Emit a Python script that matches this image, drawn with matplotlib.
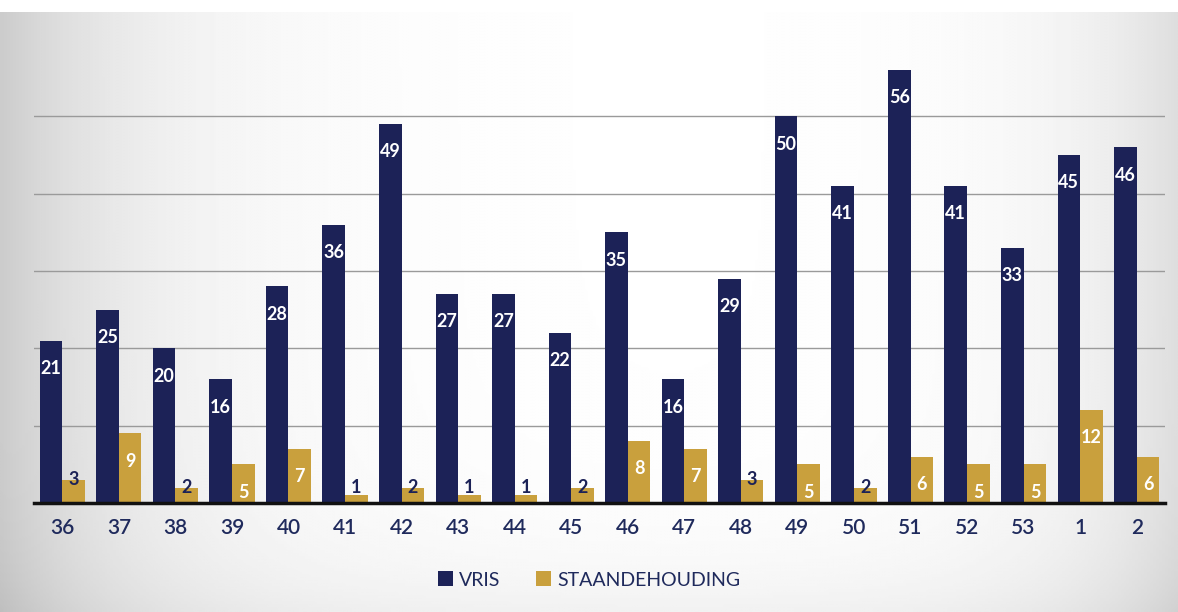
import matplotlib.pyplot as plt
import numpy as np

# week numbers and counts
weeks = ["36", "37", "38", "39", "40", "41", "42", "43", "44", "45",
         "46", "47", "48", "49", "50", "51", "52", "53", "1", "2"]
vris = [21, 25, 20, 16, 28, 36, 49, 27, 27, 22, 35, 16, 29, 50, 41, 56, 41, 33, 45, 46]
staande = [3, 9, 2, 5, 7, 1, 2, 1, 1, 2, 8, 7, 3, 5, 2, 6, 5, 5, 12, 6]

navy = "#1c2257"
gold = "#c9a03d"
text_dark = "#1f2a5c"

plt.rcParams['font.family'] = ['Lato', 'DejaVu Sans']

fig = plt.figure(figsize=(11.78, 6.12), dpi=100)

# soft grey gradient behind the chart (scan look)
bg = fig.add_axes([0, 0, 1, 600 / 612])
xx = np.linspace(0, 1178, 400)
yy = np.linspace(0, 600, 200)
X, Y = np.meshgrid(xx, yy)
shade = 1 - 0.20 * np.exp(-X / 140) - 0.13 * np.exp(-(1178 - X) / 110) - 0.05 * np.exp(-(600 - Y) / 60)
bg.imshow(shade, cmap="gray", vmin=0, vmax=1, aspect="auto", extent=[0, 1, 0, 1])
bg.axis("off")

ax = fig.add_axes([34 / 1178, 109 / 612, 1131 / 1178, 464 / 612])
ax.set_facecolor("none")

x = np.arange(len(weeks))
w = 0.40
b1 = ax.bar(x - w / 2, vris, w, color=navy, label="VRIS", zorder=3)
b2 = ax.bar(x + w / 2, staande, w, color=gold, label="STAANDEHOUDING", zorder=3)

# data labels
for bars, vals in ((b1, vris), (b2, staande)):
    for r, v in zip(bars, vals):
        cx = r.get_x() + r.get_width() / 2
        if v > 4:
            ax.annotate(str(v), (cx, v), xytext=(0, -20), textcoords="offset points",
                        ha="center", va="center", color="white", fontsize=13,
                        fontweight="bold", zorder=4)
        else:
            ax.text(cx, max(v, 2.0), str(v), ha="center", va="center",
                    color=navy, fontsize=13, fontweight="bold", zorder=4)

ax.set_xlim(-0.5, len(weeks) - 0.5)
ax.set_ylim(0, 60)
ax.set_yticks([10, 20, 30, 40, 50])
ax.yaxis.grid(True, color="#9a9a9a", linewidth=1, zorder=0)
ax.tick_params(axis="y", left=False, labelleft=False)
ax.set_xticks(x)
ax.set_xticklabels(weeks, color=text_dark, fontsize=15, fontweight=600)
ax.tick_params(axis="x", length=0, pad=11)
for s in ("top", "right", "left"):
    ax.spines[s].set_visible(False)
ax.spines["bottom"].set_color("#111111")
ax.spines["bottom"].set_linewidth(2.5)
ax.spines["bottom"].set_zorder(5)

leg = fig.legend(handles=[b1, b2], loc="center", bbox_to_anchor=(0.5, 1 - 580 / 612),
                 ncol=2, frameon=False, fontsize=14, handlelength=0.8, handleheight=0.8,
                 handletextpad=0.3, columnspacing=1.8)
for t in leg.get_texts():
    t.set_color(text_dark)

fig.savefig("out.png", dpi=100)
